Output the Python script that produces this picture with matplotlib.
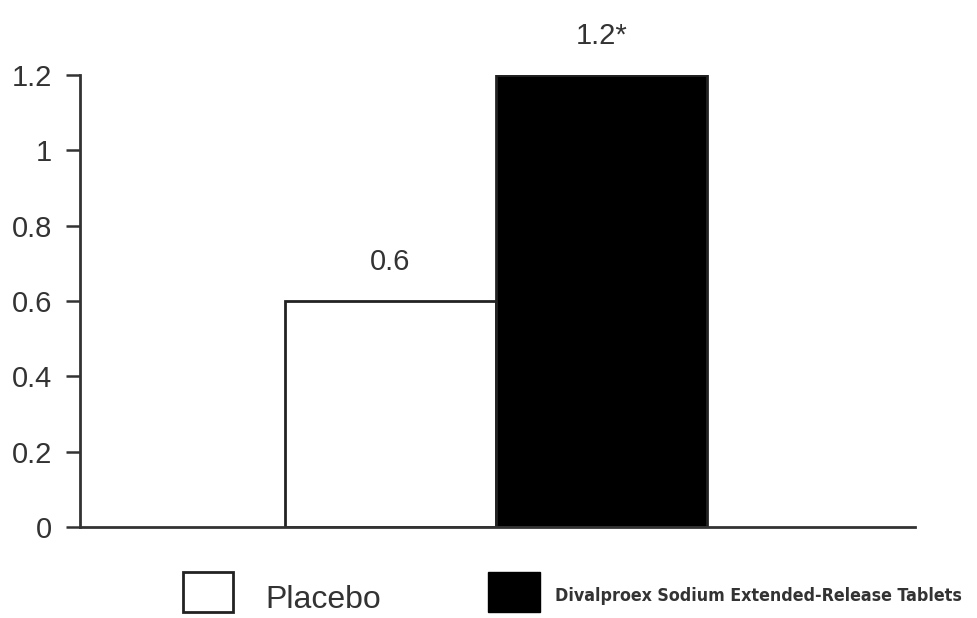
import matplotlib
matplotlib.use("Agg")
import matplotlib.pyplot as plt
from matplotlib.patches import Rectangle

categories = ["Placebo", "Divalproex Sodium Extended-Release Tablets"]
values = [0.6, 1.2]
bar_labels = ["0.6", "1.2*"]
yticks = [0, 0.2, 0.4, 0.6, 0.8, 1.0, 1.2]
ytick_labels = ["0", "0.2", "0.4", "0.6", "0.8", "1", "1.2"]
face_colors = ["white", "black"]

plt.rcParams['font.family'] = ['Liberation Sans', 'DejaVu Sans']
fig = plt.figure(figsize=(9.77, 6.18), dpi=100)
ax = fig.add_axes([80/977, 1-527/618, (915-80)/977, (527-75)/618])

x = [0, 1]
ax.bar(x, values, width=1.0, color=face_colors, edgecolor='#222222', linewidth=2)
ax.set_xlim(-1.47, 2.486)
ax.set_ylim(0, 1.2)
ax.set_yticks(yticks)
ax.set_yticklabels(ytick_labels, fontsize=21, color='#333333')
ax.set_xticks([])
for s in ['top', 'right']:
    ax.spines[s].set_visible(False)
for s in ['left', 'bottom']:
    ax.spines[s].set_linewidth(2)
    ax.spines[s].set_color('#333333')
ax.tick_params(axis='y', length=10, width=1.8, color='#333333', pad=10)

for xi, v, lab in zip(x, values, bar_labels):
    ax.annotate(lab, (xi, v), xytext=(0, 18), textcoords='offset points',
                ha='center', va='bottom', fontsize=21, color='#333333')

# legend
fig.patches.append(Rectangle((183/977, 1-612/618), 50/977, 40/618, transform=fig.transFigure,
                             facecolor='white', edgecolor='#222222', linewidth=2))
fig.text(265/977, 1-600/618, categories[0], fontsize=23, color='#333333', va='center', ha='left')
fig.patches.append(Rectangle((488/977, 1-612/618), 52/977, 40/618, transform=fig.transFigure,
                             facecolor='black', edgecolor='black', linewidth=1))
fig.text(555/977, 1-596/618, categories[1], fontsize=12.8, fontweight='bold', fontstretch='condensed',
         family=['DejaVu Sans'], color='#333333', va='center', ha='left')

fig.savefig("out.png", dpi=100)
